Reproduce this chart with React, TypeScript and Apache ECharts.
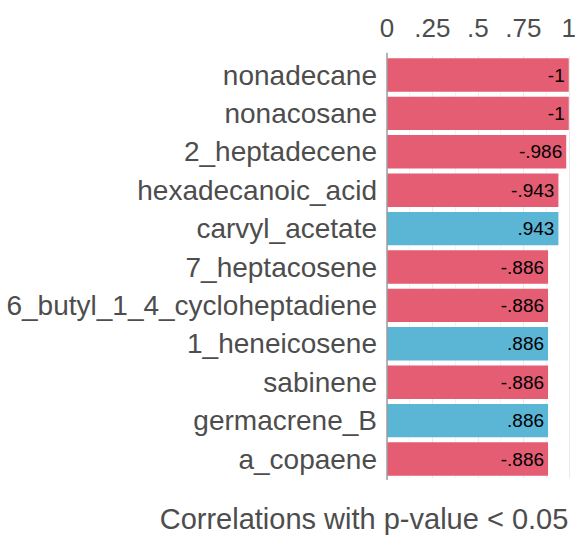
import React, { useEffect, useRef } from "react";
import * as echarts from "echarts";

const categories = [
  "nonadecane",
  "nonacosane",
  "2_heptadecene",
  "hexadecanoic_acid",
  "carvyl_acetate",
  "7_heptacosene",
  "6_butyl_1_4_cycloheptadiene",
  "1_heneicosene",
  "sabinene",
  "germacrene_B",
  "a_copaene",
];
const correlations = [-1, -1, -0.986, -0.943, 0.943, -0.886, -0.886, 0.886, -0.886, 0.886, -0.886];
const xTicks = [0, 0.25, 0.5, 0.75, 1];
const titleText = "Correlations with p-value < 0.05";

const RED = "#E45D73";
const BLUE = "#5BB5D5";
const TEXT = "#4d4d4d";
const FONT = "'Liberation Sans', Arial, sans-serif";

const fmt = (v: number) => {
  let s = String(Math.round(v * 1000) / 1000);
  s = s.replace(/^0\./, ".").replace(/^-0\./, "-.");
  return s;
};

export default function App() {
  const ref = useRef<HTMLDivElement>(null);
  useEffect(() => {
    if (!ref.current) return;
    const chart = echarts.init(ref.current, undefined, { renderer: "svg" });
    const gridLeft = 387;
    const gridTop = 55.8;
    const gridW = 186;
    const gridH = 422.4;
    chart.setOption({
      animation: false,
      textStyle: { fontFamily: FONT },
      grid: { left: gridLeft, top: gridTop, width: gridW, height: gridH, containLabel: false },
      xAxis: {
        type: "value",
        position: "top",
        min: xTicks[0],
        max: xTicks[xTicks.length - 1],
        interval: 0.25,
        axisLine: { show: false },
        axisTick: { show: false },
        axisLabel: {
          color: TEXT,
          fontSize: 26,
          fontFamily: FONT,
          margin: 28,
          verticalAlign: "middle",
          formatter: (v: number) => fmt(v),
        },
        splitLine: { show: true, lineStyle: { color: "#ebebeb", width: 1 } },
        minorTick: { show: false, splitNumber: 2 },
        minorSplitLine: { show: true, lineStyle: { color: "#f2f2f2", width: 1 } },
      },
      yAxis: {
        type: "category",
        data: categories,
        inverse: true,
        axisLine: { show: false },
        axisTick: { show: false },
        axisLabel: { color: TEXT, fontSize: 28, fontFamily: FONT, margin: 10 },
        splitLine: { show: false },
      },
      series: [
        {
          type: "bar",
          barCategoryGap: "13%",
          data: correlations.map((v) => ({
            value: Math.abs(v),
            itemStyle: { color: v < 0 ? RED : BLUE },
            label: { formatter: fmt(v) },
          })),
          label: {
            show: true,
            position: "insideRight",
            distance: 4,
            color: "#000",
            fontSize: 19,
            fontFamily: FONT,
          },
        },
      ],
      graphic: [
        {
          type: "line",
          shape: { x1: gridLeft, y1: 52.7, x2: gridLeft, y2: 480 },
          style: { stroke: "#9e9e9e", lineWidth: 1.5 },
          z: 10,
        },
        {
          type: "text",
          x: 364,
          y: 518.5,
          style: {
            text: titleText,
            fill: TEXT,
            fontSize: 29,
            fontFamily: FONT,
            textAlign: "center",
            textVerticalAlign: "middle",
          },
        },
      ],
    });
    return () => chart.dispose();
  }, []);
  return (
    <div
      ref={ref}
      style={{ position: "fixed", left: 0, top: 0, width: 579, height: 536, background: "#fff" }}
    />
  );
}
